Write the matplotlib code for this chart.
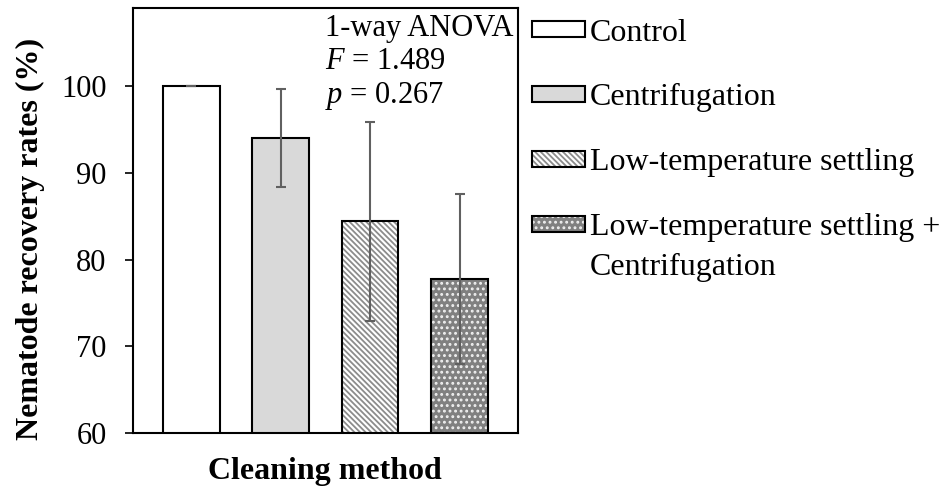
import matplotlib
matplotlib.use("Agg")
import matplotlib.pyplot as plt
from matplotlib.patches import Patch

# data
methods = ["Control", "Centrifugation", "Low-temperature settling",
           "Low-temperature settling +"]
last_label_line2 = "Centrifugation"
recovery = [100.0, 94.0, 84.4, 77.8]
errors = [0.0, 5.65, 11.5, 9.8]
fills = ["white", "#d9d9d9", "white", "#808080"]
hatches = [None, None, "\\" * 6, "..."]
hatch_colors = ["white", "#d9d9d9", "#8c8c8c", "#f0f0f0"]

plt.rcParams["font.family"] = "Liberation Serif"
plt.rcParams["mathtext.fontset"] = "custom"
plt.rcParams["mathtext.rm"] = "Liberation Serif"
plt.rcParams["mathtext.it"] = "Liberation Serif:italic"
plt.rcParams["hatch.linewidth"] = 1.3

fig = plt.figure(figsize=(9.43, 4.9), dpi=100)
ax = fig.add_axes([0.141, 0.1163, 0.408, 0.8674])

x = list(range(len(methods)))
handles = []
for i in x:
    # hatch layer (edge colour drives hatch colour), then black outline on top
    ax.bar(i, recovery[i], width=0.635, color=fills[i],
           hatch=hatches[i], edgecolor=hatch_colors[i], linewidth=0, zorder=2)
    ax.bar(i, recovery[i], width=0.635, fill=False, edgecolor="black",
           linewidth=1.5, zorder=3)
    p1 = Patch(facecolor=fills[i], hatch=hatches[i], edgecolor=hatch_colors[i], linewidth=0)
    p2 = Patch(fill=False, edgecolor="black", linewidth=1.5)
    handles.append((p1, p2))

ax.errorbar(x, recovery, yerr=errors, fmt="none", ecolor="#606060",
            elinewidth=1.5, capsize=3.3, capthick=1.5, zorder=4)

ax.set_ylim(60, 109)
ax.set_xlim(-0.65, 3.65)
ax.set_yticks([60, 70, 80, 90, 100])
ax.set_xticks([])
ax.tick_params(axis="y", direction="out", length=6, width=1.2, labelsize=22, pad=13)
for s in ax.spines.values():
    s.set_linewidth(1.5)

ax.set_ylabel("Nematode recovery rates (%)", fontsize=23, fontweight="bold")
ax.yaxis.set_label_coords(-0.228, 0.456)
ax.set_xlabel("Cleaning method", fontsize=23, fontweight="bold", labelpad=17)

ax.text(0.498, 0.986, "1-way ANOVA\n$F$ = 1.489\n$p$ = 0.267", transform=ax.transAxes,
        fontsize=22, va="top", ha="left", linespacing=1.17)

leg = fig.legend(handles, methods, loc="upper left", bbox_to_anchor=(0.551, 0.988),
                 frameon=False, fontsize=23, handlelength=1.65, handleheight=0.4,
                 handletextpad=0.15, labelspacing=1.12, borderaxespad=0.2, borderpad=0.2)

# second line of the last entry, hanging under its first line
fig.canvas.draw()
ax.annotate(last_label_line2, xy=(0, 0), xycoords=leg.get_texts()[-1],
            xytext=(0, -40), textcoords="offset pixels", fontsize=23,
            ha="left", va="bottom", annotation_clip=False)

fig.savefig("out.png", dpi=100)
